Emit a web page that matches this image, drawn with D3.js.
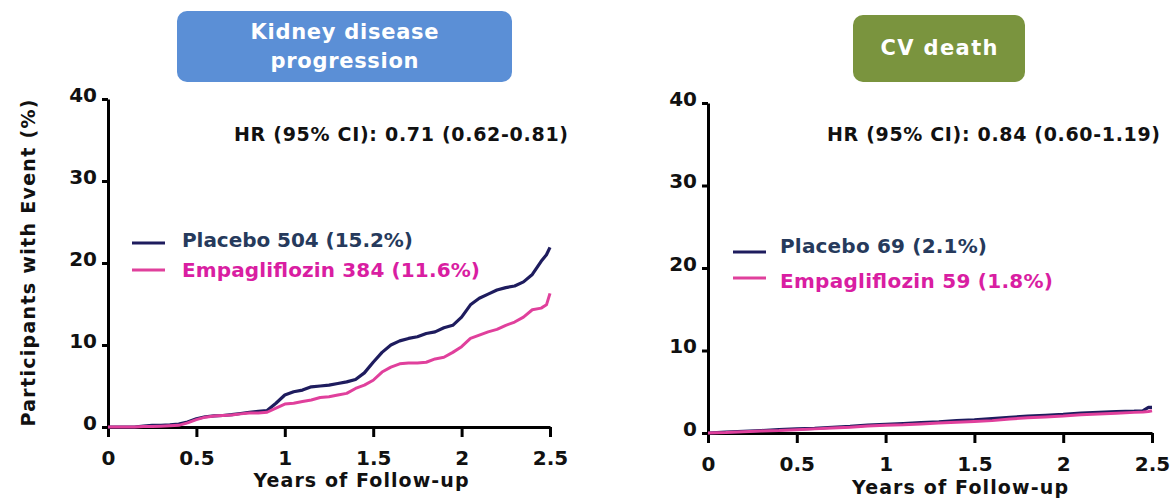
<!DOCTYPE html>
<html><head><meta charset="utf-8">
<script src="https://cdn.jsdelivr.net/npm/d3@7"></script>
<style>
body{margin:0;background:#fff;}
text{font-family:"DejaVu Sans",sans-serif;font-weight:700;}
</style></head>
<body><svg id="c" width="1172" height="498"></svg>
<script>
// ---- data ----
const panelTitles = [["Kidney disease","progression"],["CV death"]];
const hrLabels = ["HR (95% CI): 0.71 (0.62-0.81)","HR (95% CI): 0.84 (0.60-1.19)"];
const legendPlacebo = ["Placebo 504 (15.2%)","Placebo 69 (2.1%)"];
const legendEmpa = ["Empagliflozin 384 (11.6%)","Empagliflozin 59 (1.8%)"];
const xTicks = [0,0.5,1,1.5,2,2.5];
const xTickLabels = ["0","0.5","1","1.5","2","2.5"];
const yTicks = [0,10,20,30,40];

const kidneyYears = [0,0.05,0.1,0.15,0.2,0.25,0.3,0.35,0.4,0.45,0.5,0.55,0.6,0.65,0.7,0.75,0.8,0.85,0.9,0.95,1.0,1.05,1.1,1.15,1.2,1.25,1.3,1.35,1.4,1.45,1.5,1.55,1.6,1.65,1.7,1.75,1.8,1.85,1.9,1.95,2.0,2.05,2.1,2.15,2.2,2.25,2.3,2.35,2.4,2.45,2.48,2.5];
const kidneyPlacebo = [0,0,0,0,0.1,0.2,0.2,0.25,0.35,0.6,1.0,1.25,1.35,1.4,1.5,1.65,1.8,1.9,2.0,2.9,3.9,4.3,4.5,4.9,5.0,5.1,5.3,5.5,5.8,6.6,7.9,9.1,10.0,10.5,10.8,11.0,11.4,11.6,12.1,12.4,13.4,14.9,15.7,16.2,16.7,17.0,17.2,17.7,18.6,20.2,21.0,21.9];
const kidneyEmpa = [0,0,0,0,0.05,0.05,0.1,0.15,0.2,0.5,0.9,1.2,1.35,1.4,1.45,1.6,1.7,1.7,1.8,2.3,2.8,2.9,3.1,3.3,3.6,3.7,3.9,4.1,4.7,5.1,5.7,6.7,7.3,7.7,7.8,7.8,7.9,8.3,8.5,9.1,9.8,10.8,11.2,11.6,11.9,12.4,12.8,13.4,14.3,14.5,14.9,16.3];

const cvYears = [0,0.1,0.2,0.3,0.4,0.5,0.6,0.7,0.8,0.9,1.0,1.1,1.2,1.3,1.4,1.5,1.6,1.7,1.8,1.9,2.0,2.1,2.2,2.3,2.4,2.45,2.48,2.5];
const cvPlacebo = [0,0.1,0.2,0.3,0.4,0.5,0.55,0.7,0.8,0.95,1.05,1.15,1.25,1.35,1.5,1.6,1.75,1.9,2.05,2.15,2.25,2.4,2.5,2.6,2.65,2.7,3.1,3.1];
const cvEmpa = [0,0.05,0.15,0.25,0.3,0.4,0.5,0.6,0.7,0.85,0.95,1.0,1.1,1.2,1.3,1.4,1.5,1.7,1.85,1.95,2.05,2.2,2.3,2.4,2.5,2.55,2.6,2.7];

const colPlacebo = "#1e1c5e", colEmpa = "#e0409c";
const colPlaceboText = "#263a5c", colEmpaText = "#d91ea2";

const svg = d3.select("#c");

function fit(sel, w){ sel.attr("textLength", w).attr("lengthAdjust","spacing"); return sel; }

const panels = [
  {x0:108,x1:550,y0:427,y1:99, t:kidneyYears, p:kidneyPlacebo, e:kidneyEmpa,
   box:{x:177,y:11,w:335,h:71,fill:"#5b8fd6"}, title:panelTitles[0], titleY:[39,68], titleW:[188,148],
   hr:{x:568,y:141,w:334}, leg:{lx:132,tx:182,l1:243,l2:270,b1:247,b2:277,w1:231,w2:298},
   xlab:{x:361,y:487,w:215}, ylab:true},
  {x0:708,x1:1152,y0:433,y1:103, t:cvYears, p:cvPlacebo, e:cvEmpa,
   box:{x:853,y:15,w:172,h:67,fill:"#7a943e"}, title:panelTitles[1], titleY:[55], titleW:[117],
   hr:{x:1160,y:141,w:333}, leg:{lx:733,tx:780,l1:252,l2:278,b1:253,b2:288,w1:207,w2:273},
   xlab:{x:960,y:494,w:216}, ylab:false}
];

panels.forEach((P,i)=>{
  const x = d3.scaleLinear().domain([0,2.5]).range([P.x0,P.x1]);
  const y = d3.scaleLinear().domain([0,40]).range([P.y0,P.y1]);
  const g = svg.append("g");

  g.append("rect").attr("x",P.box.x).attr("y",P.box.y).attr("width",P.box.w).attr("height",P.box.h)
    .attr("rx",10).attr("fill",P.box.fill);
  P.title.forEach((s,k)=>{
    fit(g.append("text").attr("x",P.box.x+P.box.w/2).attr("y",P.titleY[k])
      .attr("text-anchor","middle").attr("fill","#fff").style("font-size","21px").style("font-weight","700").text(s), P.titleW[k]);
  });

  const xa = g.append("g").attr("transform",`translate(0,${P.y0})`)
    .call(d3.axisBottom(x).tickValues(xTicks).tickFormat((d,k)=>xTickLabels[k]).tickSize(10).tickSizeOuter(0));
  const ya = g.append("g").attr("transform",`translate(${P.x0},0)`)
    .call(d3.axisLeft(y).tickValues(yTicks).tickSize(6).tickSizeOuter(0));
  [xa,ya].forEach(a=>{
    a.select(".domain").attr("stroke","#000").attr("stroke-width",3);
    a.selectAll(".tick line").attr("stroke","#000").attr("stroke-width",3);
    a.selectAll(".tick text").attr("fill","#111").style("font-size","20px").style("font-family","'DejaVu Sans', sans-serif").style("font-weight","700");
  });
  xa.selectAll(".tick text").attr("dy","0").attr("y",38);
  ya.selectAll(".tick text").attr("x",-11).attr("dy","0.1em");

  const line = (vals)=>d3.line().curve(d3.curveLinear).x((d,k)=>x(P.t[k])).y(d=>y(d))(vals);
  g.append("path").attr("d",line(P.p)).attr("fill","none").attr("stroke",colPlacebo).attr("stroke-width",3.2).attr("stroke-linejoin","round");
  g.append("path").attr("d",line(P.e)).attr("fill","none").attr("stroke",colEmpa).attr("stroke-width",3).attr("stroke-linejoin","round");

  fit(g.append("text").attr("x",P.hr.x).attr("y",P.hr.y).attr("text-anchor","end").attr("fill","#111")
    .style("font-size","19px").text(hrLabels[i]), P.hr.w);

  g.append("line").attr("x1",P.leg.lx).attr("x2",P.leg.lx+33).attr("y1",P.leg.l1).attr("y2",P.leg.l1)
    .attr("stroke",colPlacebo).attr("stroke-width",3);
  g.append("line").attr("x1",P.leg.lx).attr("x2",P.leg.lx+33).attr("y1",P.leg.l2).attr("y2",P.leg.l2)
    .attr("stroke",colEmpa).attr("stroke-width",3);
  fit(g.append("text").attr("x",P.leg.tx).attr("y",P.leg.b1).attr("fill",colPlaceboText)
    .style("font-size","20px").text(legendPlacebo[i]), P.leg.w1);
  fit(g.append("text").attr("x",P.leg.tx).attr("y",P.leg.b2).attr("fill",colEmpaText)
    .style("font-size","20px").text(legendEmpa[i]), P.leg.w2);

  fit(g.append("text").attr("x",P.xlab.x).attr("y",P.xlab.y).attr("text-anchor","middle").attr("fill","#111")
    .style("font-size","19px").text("Years of Follow-up"), P.xlab.w);
  if(P.ylab){
    fit(g.append("text").attr("transform","translate(35,263) rotate(-90)").attr("text-anchor","middle").attr("fill","#111")
      .style("font-size","19px").text("Participants with Event (%)"), 327);
  }
});
</script></body></html>
